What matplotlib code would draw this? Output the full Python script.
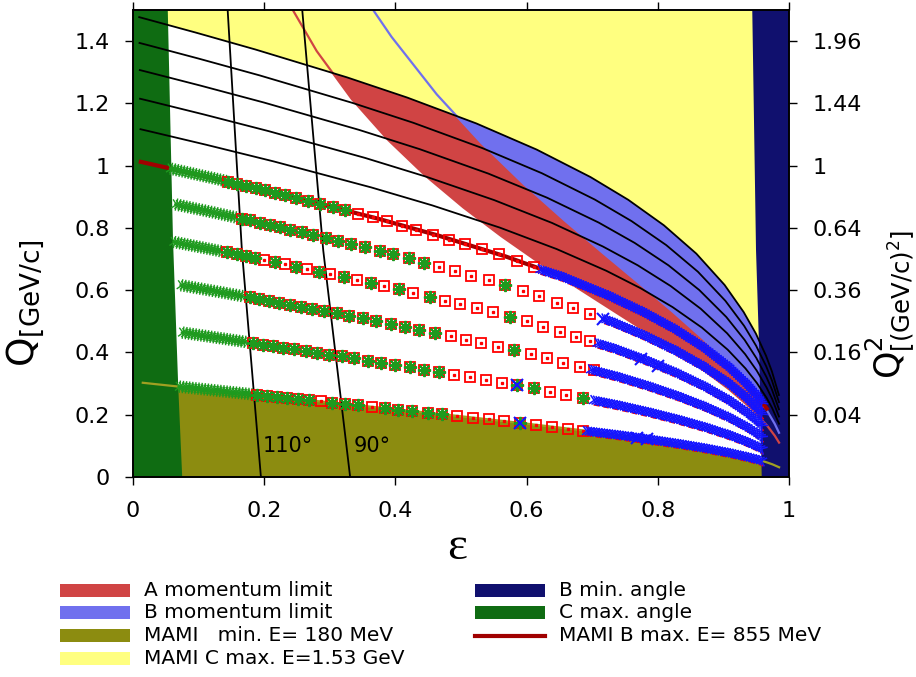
import numpy as np
import matplotlib
matplotlib.use("Agg")
import matplotlib.pyplot as plt
from matplotlib import patheffects as pe
from matplotlib.patches import Polygon, Rectangle
from matplotlib.lines import Line2D

# ---- constant beam energy lines (eps, Q [GeV/c]) ----
eps_180 = [0.0149, 0.0338, 0.1403, 0.2570, 0.4121, 0.5022, 0.5980, 0.6762, 0.7436, 0.7898, 0.8337, 0.8742,
           0.9104, 0.9356, 0.9522, 0.9665, 0.9747, 0.9849]
q_180 = [0.3027, 0.2984, 0.2747, 0.2491, 0.2150, 0.1946, 0.1719, 0.1523, 0.1341, 0.1205, 0.1064, 0.0920,
         0.0772, 0.0652, 0.0561, 0.0468, 0.0407, 0.0313]
eps_855 = [0.0119, 0.0271, 0.1166, 0.2218, 0.3726, 0.4655, 0.5676, 0.6527, 0.7267, 0.7775, 0.8254, 0.8690,
           0.9076, 0.9341, 0.9513, 0.9661]
q_855 = [1.0123, 1.0051, 0.9626, 0.9106, 0.8302, 0.7755, 0.7087, 0.6451, 0.5814, 0.5310, 0.4764, 0.4178,
         0.3553, 0.3026, 0.2617, 0.2198]
eps_990 = [0.0114, 0.0259, 0.1119, 0.2142, 0.3631, 0.4561, 0.5592, 0.6459, 0.7216, 0.7737, 0.8226, 0.8673,
           0.9066, 0.9336, 0.9510, 0.9659, 0.9744, 0.9848]
q_990 = [1.1171, 1.1100, 1.0670, 1.0138, 0.9302, 0.8725, 0.8010, 0.7321, 0.6623, 0.6065, 0.5456, 0.4797,
         0.4088, 0.3488, 0.3020, 0.2539, 0.2212, 0.1712]
eps_1125 = [0.0108, 0.0248, 0.1074, 0.2068, 0.3536, 0.4464, 0.5505, 0.6387, 0.7160, 0.7694, 0.8196, 0.8654,
            0.9056, 0.9331, 0.9507, 0.9657, 0.9743, 0.9847]
q_1125 = [1.2150, 1.2079, 1.1648, 1.1109, 1.0250, 0.9649, 0.8895, 0.8161, 0.7407, 0.6800, 0.6134, 0.5405,
          0.4617, 0.3946, 0.3421, 0.2879, 0.2509, 0.1943]
eps_1260 = [0.0104, 0.0237, 0.1032, 0.1996, 0.3442, 0.4368, 0.5416, 0.6311, 0.7101, 0.7648, 0.8164, 0.8633,
            0.9044, 0.9324, 0.9503, 0.9655, 0.9741, 0.9847]
q_1260 = [1.3071, 1.3000, 1.2570, 1.2028, 1.1152, 1.0532, 0.9746, 0.8972, 0.8170, 0.7518, 0.6797, 0.6004,
          0.5140, 0.4401, 0.3819, 0.3216, 0.2805, 0.2174]
eps_1395 = [0.0099, 0.0227, 0.0992, 0.1930, 0.3350, 0.4272, 0.5325, 0.6233, 0.7040, 0.7600, 0.8129, 0.8611,
            0.9031, 0.9317, 0.9499, 0.9653, 0.9740, 0.9847]
q_1395 = [1.3942, 1.3872, 1.3444, 1.2900, 1.2013, 1.1378, 1.0565, 0.9757, 0.8911, 0.8219, 0.7448, 0.6594,
          0.5657, 0.4851, 0.4214, 0.3553, 0.3100, 0.2405]
eps_1530 = [0.0095, 0.0218, 0.0955, 0.1865, 0.3260, 0.4177, 0.5234, 0.6153, 0.6975, 0.7549, 0.8092, 0.8587,
            0.9018, 0.9309, 0.9495, 0.9651, 0.9739, 0.9846]
q_1530 = [1.4770, 1.4700, 1.4276, 1.3732, 1.2838, 1.2190, 1.1356, 1.0517, 0.9633, 0.8904, 0.8086, 0.7175,
          0.6169, 0.5297, 0.4607, 0.3888, 0.3394, 0.2635]

# ---- spectrometer momentum limits ----
red_eps = [0.2287, 0.2800, 0.3336, 0.3892, 0.4462, 0.5040, 0.5619, 0.6192, 0.6752, 0.7292, 0.7803, 0.8278,
           0.8708, 0.9087, 0.9407, 0.9662, 0.9783, 0.9849]
red_q = [1.5540, 1.3682, 1.2139, 1.0822, 0.9673, 0.8652, 0.7730, 0.6887, 0.6108, 0.5380, 0.4694, 0.4042,
         0.3419, 0.2817, 0.2234, 0.1664, 0.1327, 0.1104]
blue_eps = [0.3246, 0.3664, 0.3941, 0.4630, 0.5304, 0.5958, 0.6585, 0.7177, 0.7729, 0.8232, 0.8683, 0.9074,
            0.9402, 0.9661, 0.9782, 0.9848]
blue_q = [1.6433, 1.4991, 1.4138, 1.2291, 1.0744, 0.9410, 0.8233, 0.7172, 0.6202, 0.5303, 0.4459, 0.3657,
          0.2889, 0.2146, 0.1710, 0.1421]
# ---- angle limits ----
navy_eps = [0.944, 0.9497, 0.9548, 0.9584, 1.0, 1.0]
navy_q = [1.50, 0.73, 0.39, 0.0, 0.0, 1.50]
green_eps = [0.0, 0.053, 0.061, 0.069, 0.075, 0.0]
green_q = [1.50, 1.50, 0.76, 0.288, 0.0, 0.0]

# ---- constant angle lines ----
ang110_eps = [0.1443, 0.166, 0.195]
ang110_q = [1.50, 0.728, 0.0]
ang90_eps = [0.258, 0.290, 0.331]
ang90_q = [1.50, 0.728, 0.0]
ang_labels = ['110°', '90°']
ang_label_eps = [0.198, 0.337]

# ---- measured settings: squares, with star flag ----
sq855_eps = [0.145, 0.159, 0.172, 0.187, 0.201, 0.216, 0.232, 0.249, 0.267, 0.285, 0.305, 0.323,
             0.343, 0.366, 0.387, 0.410, 0.432, 0.457, 0.482, 0.506, 0.532, 0.558, 0.585, 0.611]
sq855_q = [0.9486, 0.9417, 0.9353, 0.9279, 0.9209, 0.9137, 0.9052, 0.8962, 0.8866, 0.8770, 0.8663, 0.8567,
           0.8460, 0.8337, 0.8212, 0.8069, 0.7932, 0.7776, 0.7620, 0.7471, 0.7309, 0.7147, 0.6948, 0.6740]
st855 = [1] * 12 + [0] * 12
sq720_eps = [0.166, 0.178, 0.194, 0.209, 0.224, 0.240, 0.257, 0.275, 0.294, 0.313, 0.333, 0.354, 0.376,
             0.397, 0.420, 0.443, 0.467, 0.491, 0.516, 0.542, 0.567, 0.594, 0.619, 0.646, 0.671, 0.697]
sq720_q = [0.8296, 0.8240, 0.8166, 0.8096, 0.8026, 0.7949, 0.7864, 0.7775, 0.7680, 0.7586, 0.7486, 0.7381, 0.7271,
           0.7154, 0.7021, 0.6888, 0.6749, 0.6610, 0.6465, 0.6315, 0.6170, 0.5985, 0.5802, 0.5604, 0.5421, 0.5230]
st720 = [1] * 16 + [0, 0, 0, 0, 1, 0, 0, 0, 0, 0]
sq585_eps = [0.143, 0.158, 0.172, 0.186, 0.200, 0.2165, 0.232, 0.2485, 0.265, 0.2835, 0.301, 0.322, 0.341, 0.363,
             0.383, 0.406, 0.427, 0.452, 0.476, 0.498, 0.524, 0.549, 0.575, 0.600, 0.625, 0.651, 0.676, 0.697]
sq585_q = [0.7214, 0.7150, 0.7090, 0.7030, 0.6970, 0.6900, 0.6834, 0.6760, 0.6685, 0.6600, 0.6520, 0.6425, 0.6338, 0.6238,
           0.6146, 0.6032, 0.5922, 0.5791, 0.5666, 0.5551, 0.5415, 0.5284, 0.5149, 0.4996, 0.4834, 0.4665, 0.4503, 0.4367]
st585 = [1, 1, 1, 1, 0, 1, 0, 1, 0, 1, 0, 1, 0, 1, 0, 1, 0, 1, 0, 0, 0, 0, 1, 0, 0, 0, 0, 0]
sq450_eps = [0.178, 0.1925, 0.208, 0.223, 0.239, 0.256, 0.273, 0.291, 0.3105, 0.330, 0.350, 0.370, 0.393,
             0.414, 0.436, 0.460, 0.484, 0.507, 0.531, 0.556, 0.581, 0.606, 0.631, 0.656, 0.681, 0.702]
sq450_q = [0.5768, 0.5713, 0.5654, 0.5597, 0.5536, 0.5470, 0.5402, 0.5330, 0.5252, 0.5174, 0.5094, 0.5014, 0.4922,
           0.4830, 0.4731, 0.4623, 0.4515, 0.4411, 0.4303, 0.4190, 0.4077, 0.3949, 0.3813, 0.3677, 0.3541, 0.3426]
st450 = [1] * 16 + [0, 0, 0, 0, 1, 0, 0, 0, 0, 0]
sq315_eps = [0.183, 0.1985, 0.214, 0.229, 0.246, 0.263, 0.281, 0.299, 0.318, 0.337, 0.358, 0.3785, 0.399,
             0.422, 0.444, 0.4665, 0.490, 0.514, 0.538, 0.562, 0.586, 0.611, 0.636, 0.660, 0.6855]
sq315_q = [0.4303, 0.4255, 0.4206, 0.4159, 0.4106, 0.4051, 0.3992, 0.3934, 0.3872, 0.3810, 0.3741, 0.3674, 0.3608,
           0.3528, 0.3450, 0.3370, 0.3286, 0.3201, 0.3115, 0.3030, 0.2944, 0.2845, 0.2741, 0.2641, 0.2534]
st315 = [1] * 16 + [0, 0, 0, 0, 1, 1, 0, 0, 1]
sq180_eps = [0.1885, 0.204, 0.219, 0.234, 0.252, 0.268, 0.286, 0.304, 0.323, 0.3435, 0.364, 0.384, 0.404,
             0.426, 0.449, 0.4715, 0.494, 0.518, 0.542, 0.566, 0.590, 0.614, 0.638, 0.663, 0.6865]
sq180_q = [0.2641, 0.2607, 0.2574, 0.2541, 0.2502, 0.2467, 0.2427, 0.2388, 0.2346, 0.2301, 0.2256, 0.2212, 0.2168,
           0.2118, 0.2065, 0.2012, 0.1960, 0.1904, 0.1849, 0.1793, 0.1737, 0.1677, 0.1615, 0.1550, 0.1489]
st180 = [1, 1, 1, 1, 1, 1, 0, 1, 1, 1, 0, 1, 1, 1, 1, 1, 0, 0, 0, 0, 1, 0, 0, 0, 0]

# dense star runs at backward angles (eps, Q)
run_eps = [[0.056, 0.1166, 0.143], [0.064, 0.1215, 0.158], [0.061, 0.1265, 0.135],
           [0.072, 0.1315, 0.168], [0.074, 0.1363, 0.173], [0.069, 0.1403, 0.183]]
run_q = [[0.991, 0.9626, 0.950], [0.876, 0.8503, 0.8333], [0.7555, 0.7284, 0.7248],
         [0.6164, 0.5944, 0.5806], [0.4643, 0.4449, 0.4334], [0.2906, 0.2747, 0.2653]]

# dense cross runs at forward angles (eps, Q)
xrun_eps = [[0.620, 0.6527, 0.7267, 0.7775, 0.8254, 0.8690, 0.9076, 0.9341, 0.9513, 0.960],
            [0.717, 0.7314, 0.7810, 0.8277, 0.8705, 0.9084, 0.9346, 0.9516, 0.960],
            [0.707, 0.7355, 0.7840, 0.8298, 0.8718, 0.9091, 0.9350, 0.9518, 0.960],
            [0.697, 0.7390, 0.7866, 0.8315, 0.8728, 0.9097, 0.9353, 0.9520, 0.960],
            [0.701, 0.7417, 0.7885, 0.8328, 0.8736, 0.9101, 0.9355, 0.9521, 0.960],
            [0.690, 0.7436, 0.7898, 0.8337, 0.8742, 0.9104, 0.9356, 0.9522, 0.960]]
xrun_q = [[0.6668, 0.6451, 0.5814, 0.5310, 0.4764, 0.4178, 0.3553, 0.3026, 0.2617, 0.235],
          [0.5084, 0.4979, 0.4535, 0.4058, 0.3549, 0.3010, 0.2560, 0.2212, 0.1993],
          [0.4301, 0.4117, 0.3738, 0.3335, 0.2909, 0.2461, 0.2089, 0.1803, 0.1627],
          [0.3454, 0.3225, 0.2919, 0.2596, 0.2258, 0.1906, 0.1615, 0.1392, 0.1258],
          [0.2470, 0.2300, 0.2075, 0.1839, 0.1595, 0.1343, 0.1136, 0.0978, 0.0884],
          [0.1480, 0.1341, 0.1205, 0.1064, 0.0920, 0.0772, 0.0652, 0.0561, 0.0508]]
bigx_eps = [0.586, 0.590, 0.717, 0.775, 0.800, 0.768, 0.783]
bigx_q = [0.2944, 0.1737, 0.5084, 0.379, 0.358, 0.1266, 0.1220]

q2_vals = [0.04, 0.16, 0.36, 0.64, 1.0, 1.44, 1.96]
q2_labels = ['0.04', '0.16', '0.36', '0.64', '1', '1.44', '1.96']
x_ticks = [0, 0.2, 0.4, 0.6, 0.8, 1.0]
x_labels = ['0', '0.2', '0.4', '0.6', '0.8', '1']
y_ticks = [0, 0.2, 0.4, 0.6, 0.8, 1.0, 1.2, 1.4]
y_labels = ['0', '0.2', '0.4', '0.6', '0.8', '1', '1.2', '1.4']

c_red = '#d04444'
c_blue = '#7070ee'
c_olive = '#8c8c10'
c_yellow = '#ffff80'
c_navy = '#10106e'
c_green = '#0f6c12'
c_darkred = '#a00000'
c_star = '#1e9a1e'
c_cross = '#1414ff'

plt.rcParams['font.family'] = ['DejaVu Sans']

fig = plt.figure(figsize=(9.16, 6.77), dpi=100)
ax = fig.add_axes([133 / 916, 200 / 677, 656 / 916, 467 / 677])
ax.set_xlim(0, 1)
ax.set_ylim(0, 1.5)

# filled regions
ax.fill_between(eps_1530, q_1530, 1.5, color=c_yellow, lw=0, zorder=1)
ax.fill_between(eps_180, 0, q_180, color=c_olive, lw=0, zorder=1)

below_max = Polygon([(0, q_1530[0])] + list(zip(eps_1530, q_1530)) +
                    [(1.05, q_1530[-1]), (1.05, -0.1), (0, -0.1)], closed=True, transform=ax.transData)
red_reg = Polygon(list(zip(red_eps, red_q)) + [(1.05, red_q[-1]), (1.05, 1.7), (red_eps[0], 1.7)],
                  closed=True, color=c_red, lw=0, zorder=2)
ax.add_patch(red_reg)
red_reg.set_clip_path(below_max)
blue_reg = Polygon(list(zip(blue_eps, blue_q)) + [(1.05, blue_q[-1]), (1.05, 1.7), (blue_eps[0], 1.7)],
                   closed=True, color=c_blue, lw=0, zorder=3)
ax.add_patch(blue_reg)
blue_reg.set_clip_path(below_max)
ax.add_patch(Polygon(list(zip(green_eps, green_q)), closed=True, color=c_green, lw=0, zorder=4))
ax.add_patch(Polygon(list(zip(navy_eps, navy_q)), closed=True, color=c_navy, lw=0, zorder=4))

# lines
ax.plot(red_eps, red_q, color=c_red, lw=1.6, zorder=5)
ax.plot(blue_eps, blue_q, color=c_blue, lw=1.6, zorder=5)
for e, q in [(eps_990, q_990), (eps_1125, q_1125), (eps_1260, q_1260), (eps_1395, q_1395), (eps_1530, q_1530)]:
    ax.plot(e, q, color='black', lw=1.3, zorder=6)
ax.plot(eps_180, q_180, color='#a0a022', lw=1.6, zorder=6)
ax.plot(ang110_eps, ang110_q, color='black', lw=1.3, zorder=6)
ax.plot(ang90_eps, ang90_q, color='black', lw=1.3, zorder=6)
for lab, e in zip(ang_labels, ang_label_eps):
    ax.text(e, 0.10, lab, fontsize=15, ha='left', va='center', zorder=7)
ax.plot(eps_855, q_855, color=c_darkred, lw=3, zorder=7)

# dense star runs
star_fx = [pe.TickedStroke(spacing=2.2, angle=a, length=1.8, linewidth=1.0)
           for a in (90, -90, 45, -135, 135, -45)] + [pe.Normal()]
for e, q in zip(run_eps, run_q):
    ax.plot(e, q, color=c_star, lw=1.2, zorder=8, path_effects=star_fx)

# squares and stars
rows = [(sq855_eps, sq855_q, st855), (sq720_eps, sq720_q, st720), (sq585_eps, sq585_q, st585),
        (sq450_eps, sq450_q, st450), (sq315_eps, sq315_q, st315), (sq180_eps, sq180_q, st180)]
for e, q, st in rows:
    e = np.array(e)
    q = np.array(q)
    st = np.array(st, dtype=bool)
    ax.plot(e, q, ls='none', marker='s', ms=7.2, mfc='none', mec='red', mew=1.3, zorder=8)
    ax.plot(e, q, ls='none', marker='s', ms=1.4, color='red', zorder=8)
    ax.plot(e[st], q[st], ls='none', marker=(8, 2, 0), ms=9.5, mec=c_star, mew=1.4, zorder=9)

# dense cross runs, with the squares beneath peeking out
sq_fx = [pe.Stroke(offset=(0.5, -3.2), linewidth=1.4, foreground='red')]
x_fx = [pe.TickedStroke(spacing=1.9, angle=a, length=2.1, linewidth=1.1) for a in (45, -135, 135, -45)]
for e, q in zip(xrun_eps, xrun_q):
    ax.plot(e, q, color='red', lw=1.4, ls=(0, (3, 2)), zorder=8.5, path_effects=sq_fx)
    ax.plot(e, q, color=c_cross, lw=1.0, zorder=9, path_effects=x_fx)
ax.plot(bigx_eps, bigx_q, ls='none', marker='x', ms=8, mec=c_cross, mew=1.5, zorder=10)

# axes styling
ax.set_xticks(x_ticks)
ax.set_xticklabels(x_labels)
ax.set_yticks(y_ticks)
ax.set_yticklabels(y_labels)
ax.tick_params(direction='out', length=6, width=1, pad=11, labelsize=16, top=True, right=False)
for s in ax.spines.values():
    s.set_linewidth(1.2)
    s.set_zorder(12)

ax2 = ax.twinx()
ax2.set_ylim(0, 1.5)
ax2.set_yticks(np.sqrt(q2_vals))
ax2.set_yticklabels(q2_labels)
ax2.tick_params(direction='out', length=6, width=1, pad=11, labelsize=16)
for s in ax2.spines.values():
    s.set_linewidth(1.2)

fig.text(26 / 916, 1 - 303 / 677, r'Q$_{\mathrm{[GeV/c]}}$', rotation=90, fontsize=27, ha='center', va='center')
fig.text(890 / 916, 1 - 304 / 677, r'Q$^{2}_{\mathrm{[(GeV/c)^2]}}$', rotation=90, fontsize=25,
         ha='center', va='center')
fig.text(457 / 916, 1 - 548 / 677, 'ε', family='Liberation Serif', fontsize=34, ha='center', va='center')

# legend
leg_items = [('A momentum limit', c_red, 'patch'), ('B momentum limit', c_blue, 'patch'),
             ('MAMI   min. E= 180 MeV', c_olive, 'patch'), ('MAMI C max. E=1.53 GeV', c_yellow, 'patch'),
             ('B min. angle', c_navy, 'patch'), ('C max. angle', c_green, 'patch'),
             ('MAMI B max. E= 855 MeV', c_darkred, 'line')]
row_y = [590, 612.5, 635.5, 658.5]
col_x = [60, 475]
for i, (lab, col, kind) in enumerate(leg_items):
    cx = col_x[0] if i < 4 else col_x[1]
    cy = row_y[i if i < 4 else i - 4]
    if kind == 'patch':
        fig.add_artist(Rectangle((cx / 916, 1 - (cy + 6.5) / 677), 70 / 916, 13 / 677,
                                 transform=fig.transFigure, color=col, lw=0))
    else:
        fig.add_artist(Line2D([cx / 916, (cx + 70) / 916], [1 - cy / 677, 1 - cy / 677],
                              transform=fig.transFigure, color=col, lw=3))
    fig.text((cx + 84) / 916, 1 - cy / 677, lab, fontsize=14.5, ha='left', va='center')

fig.savefig('out.png', dpi=100)
